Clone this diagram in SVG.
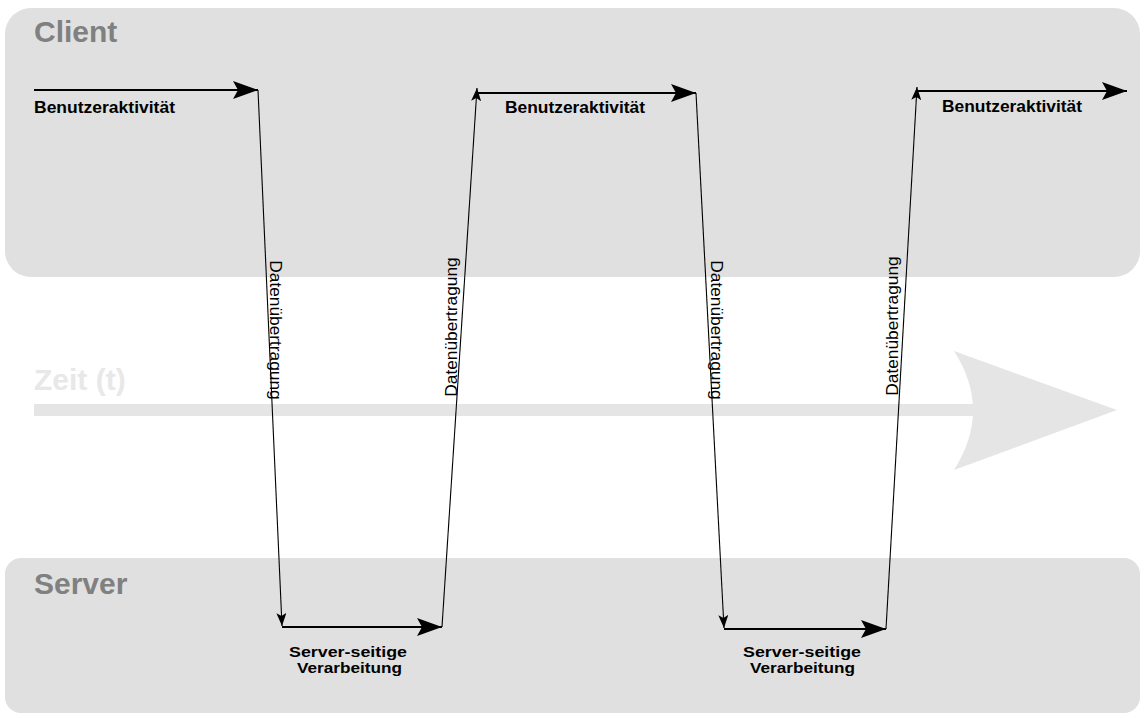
<svg xmlns="http://www.w3.org/2000/svg" width="1146" height="718" viewBox="0 0 1146 718">
<defs>
<style>
.lane{fill:#e0e0e0}
.title{font-family:"Liberation Sans",Arial,sans-serif;font-weight:bold;font-size:30px;fill:#808080}
.lbl{font-family:"Liberation Sans",Arial,sans-serif;font-weight:bold;font-size:17px;fill:#000}
.lbl2{font-family:"Liberation Sans",Arial,sans-serif;font-weight:bold;font-size:15.5px;fill:#000}
.rot{font-family:"Liberation Sans",Arial,sans-serif;font-size:17.3px;fill:#000}
.h{stroke:#000;stroke-width:2;fill:none}
.s{stroke:#000;stroke-width:1.1;fill:none}
</style>
<marker id="big" markerUnits="userSpaceOnUse" markerWidth="26" markerHeight="18" refX="25" refY="9" orient="auto">
<path d="M0,0 L25,9 L0,18 L5,9 Z" fill="#000"/>
</marker>
<marker id="small" markerUnits="userSpaceOnUse" markerWidth="14" markerHeight="10" refX="13" refY="5" orient="auto">
<path d="M0,0 L13,5 L0,10 L3,5 Z" fill="#000"/>
</marker>
</defs>
<rect width="1146" height="718" fill="#fff"/>
<g id="client">
<rect class="lane" x="5" y="8" width="1135" height="269" rx="26"/>
<text class="title" x="34" y="42">Client</text>
</g>
<g id="server">
<rect class="lane" x="5" y="558" width="1135" height="155" rx="16"/>
<text class="title" x="34" y="594">Server</text>
</g>
<g id="zeit">
<rect x="34" y="404" width="945" height="12" fill="#e5e5e5"/>
<path d="M954,351 L1117,410 L954,470 Q992,410 954,351 Z" fill="#e5e5e5"/>
<text class="title" x="34" y="390" style="fill:#e8e8e8">Zeit (t)</text>
</g>
<g id="connectors">
<line class="h" x1="34" y1="90" x2="258" y2="90" marker-end="url(#big)"/>
<line class="s" x1="258" y1="90" x2="282" y2="626" marker-end="url(#small)"/>
<line class="h" x1="282" y1="627" x2="442" y2="627" marker-end="url(#big)"/>
<line class="s" x1="442" y1="627" x2="477" y2="88" marker-end="url(#small)"/>
<line class="h" x1="477" y1="93" x2="696" y2="93" marker-end="url(#big)"/>
<line class="s" x1="696" y1="93" x2="724" y2="628" marker-end="url(#small)"/>
<line class="h" x1="724" y1="629" x2="886" y2="629" marker-end="url(#big)"/>
<line class="s" x1="886" y1="629" x2="917" y2="87" marker-end="url(#small)"/>
<line class="h" x1="917" y1="91" x2="1127" y2="91" marker-end="url(#big)"/>
</g>
<g id="labels">
<text class="lbl" x="34" y="113" textLength="141" lengthAdjust="spacingAndGlyphs">Benutzeraktivität</text>
<text class="lbl" x="505" y="113" textLength="140" lengthAdjust="spacingAndGlyphs">Benutzeraktivität</text>
<text class="lbl" x="942" y="112" textLength="140" lengthAdjust="spacingAndGlyphs">Benutzeraktivität</text>
<text class="lbl2" x="289" y="657" textLength="118" lengthAdjust="spacingAndGlyphs">Server-seitige</text>
<text class="lbl2" x="297" y="673" textLength="105" lengthAdjust="spacingAndGlyphs">Verarbeitung</text>
<text class="lbl2" x="743" y="657" textLength="118" lengthAdjust="spacingAndGlyphs">Server-seitige</text>
<text class="lbl2" x="750" y="673" textLength="105" lengthAdjust="spacingAndGlyphs">Verarbeitung</text>
<text class="rot" transform="translate(270,330) rotate(90)" text-anchor="middle">Datenübertragung</text>
<text class="rot" transform="translate(457,327) rotate(-90)" text-anchor="middle">Datenübertragung</text>
<text class="rot" transform="translate(711,330) rotate(90)" text-anchor="middle">Datenübertragung</text>
<text class="rot" transform="translate(898,326) rotate(-90)" text-anchor="middle">Datenübertragung</text>
</g>
</svg>
